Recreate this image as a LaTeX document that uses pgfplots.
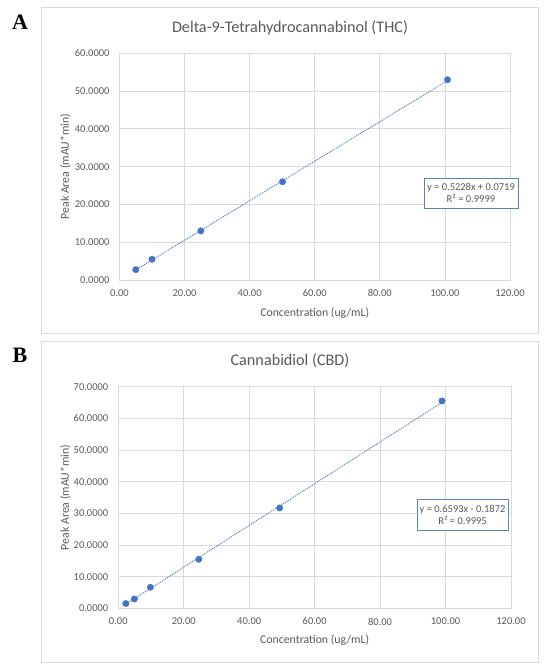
\documentclass[border=0pt]{standalone}
\usepackage{fontspec}
\setmainfont{Carlito}
\newfontfamily\panelfont{Liberation Serif}
\usepackage{pgfplots}
\pgfplotsset{compat=1.18}
\definecolor{txt}{HTML}{595959}
\definecolor{grd}{HTML}{D9D9D9}
\definecolor{ptc}{HTML}{4472C4}
\definecolor{eqb}{HTML}{5B82B5}
\pgfplotsset{calib/.style={
  scale only axis, anchor=south west,
  xmin=0, xmax=120, xtick={0,20,...,120},
  grid=major, grid style={grd, line width=0.8pt},
  axis line style={grd, line width=0.8pt},
  major tick length=0pt,
  tick label style={font=\fontsize{10.5}{12}\selectfont, text=txt},
  /pgf/number format/assume math mode=true,
  xticklabel={\pgfmathprintnumber[fixed,fixed zerofill,precision=2]{\tick}},
  yticklabel={\pgfmathprintnumber[fixed,fixed zerofill,precision=4]{\tick}},
  yticklabel style={xshift=-6.5pt},
  xticklabel style={yshift=-6pt},
  label style={font=\fontsize{11.8}{13}\selectfont, text=txt},
  xlabel={Concentration (ug/mL)},
  ylabel={Peak Area (mAU*min)},
  clip=false,
}}
\begin{document}
\begin{tikzpicture}
\useasboundingbox (0pt,0pt) rectangle (550pt,670pt);
\draw[grd, line width=1pt] (41.7pt,336pt) rectangle (538pt,662.7pt);
\draw[grd, line width=1pt] (41.7pt,7.3pt) rectangle (538pt,328.3pt);
\node[font=\fontsize{22}{22}\selectfont\panelfont\bfseries] at (20pt,647.5pt) {A};
\node[font=\fontsize{22}{22}\selectfont\panelfont\bfseries] at (20pt,314.5pt) {B};
\node[font=\fontsize{16.2}{18}\selectfont, text=txt] at (290pt,642pt) {Delta-9-Tetrahydrocannabinol (THC)};
\node[font=\fontsize{16.2}{18}\selectfont, text=txt] at (290pt,309pt) {Cannabidiol (CBD)};

\begin{axis}[calib, at={(119.5pt,390pt)}, width=390.5pt, height=226.7pt,
  ymin=0, ymax=60, ytick={0,10,...,60},
  xlabel style={at={(axis description cs:0.5,-0.1456)}, anchor=center},
  ylabel style={at={(axis description cs:-0.1385,0.5)}, anchor=center}]
\addplot[ptc, line width=0.9pt, dash pattern=on 1pt off 1pt] coordinates {(5,2.686) (100.8,52.77)};
\addplot[only marks, mark=*, mark size=3.2pt, mark options={draw=ptc, fill=ptc}] coordinates {
(5,2.75) (10,5.5) (25,13.0) (50.1,26.0) (100.8,53.0)};
\node[draw=eqb, line width=0.9pt, fill=white, align=center, text=txt, font=\fontsize{10.5}{12}\selectfont,
  minimum width=94pt, minimum height=30pt, inner sep=1pt] at (axis cs:108,23.0)
  {y = 0.5228x + 0.0719\\R² = 0.9999};
\end{axis}

\begin{axis}[calib, at={(118.3pt,61.7pt)}, width=392.7pt, height=221.6pt,
  ymin=0, ymax=70, ytick={0,10,...,70},
  xlabel style={at={(axis description cs:0.5,-0.146)}, anchor=center},
  ylabel style={at={(axis description cs:-0.135,0.5)}, anchor=center}]
\addplot[ptc, line width=0.9pt, dash pattern=on 1pt off 1pt] coordinates {(2.47,1.44) (98.8,64.95)};
\addplot[only marks, mark=*, mark size=3.2pt, mark options={draw=ptc, fill=ptc}] coordinates {
(2.3,1.5) (4.9,2.95) (9.8,6.65) (24.6,15.5) (49.3,31.7) (98.9,65.5)};
\node[draw=eqb, line width=0.9pt, fill=white, align=center, text=txt, font=\fontsize{10.5}{12}\selectfont,
  minimum width=91pt, minimum height=31pt, inner sep=1pt] at (axis cs:105.2,29.6)
  {y = 0.6593x - 0.1872\\R² = 0.9995};
\end{axis}
\end{tikzpicture}
\end{document}
